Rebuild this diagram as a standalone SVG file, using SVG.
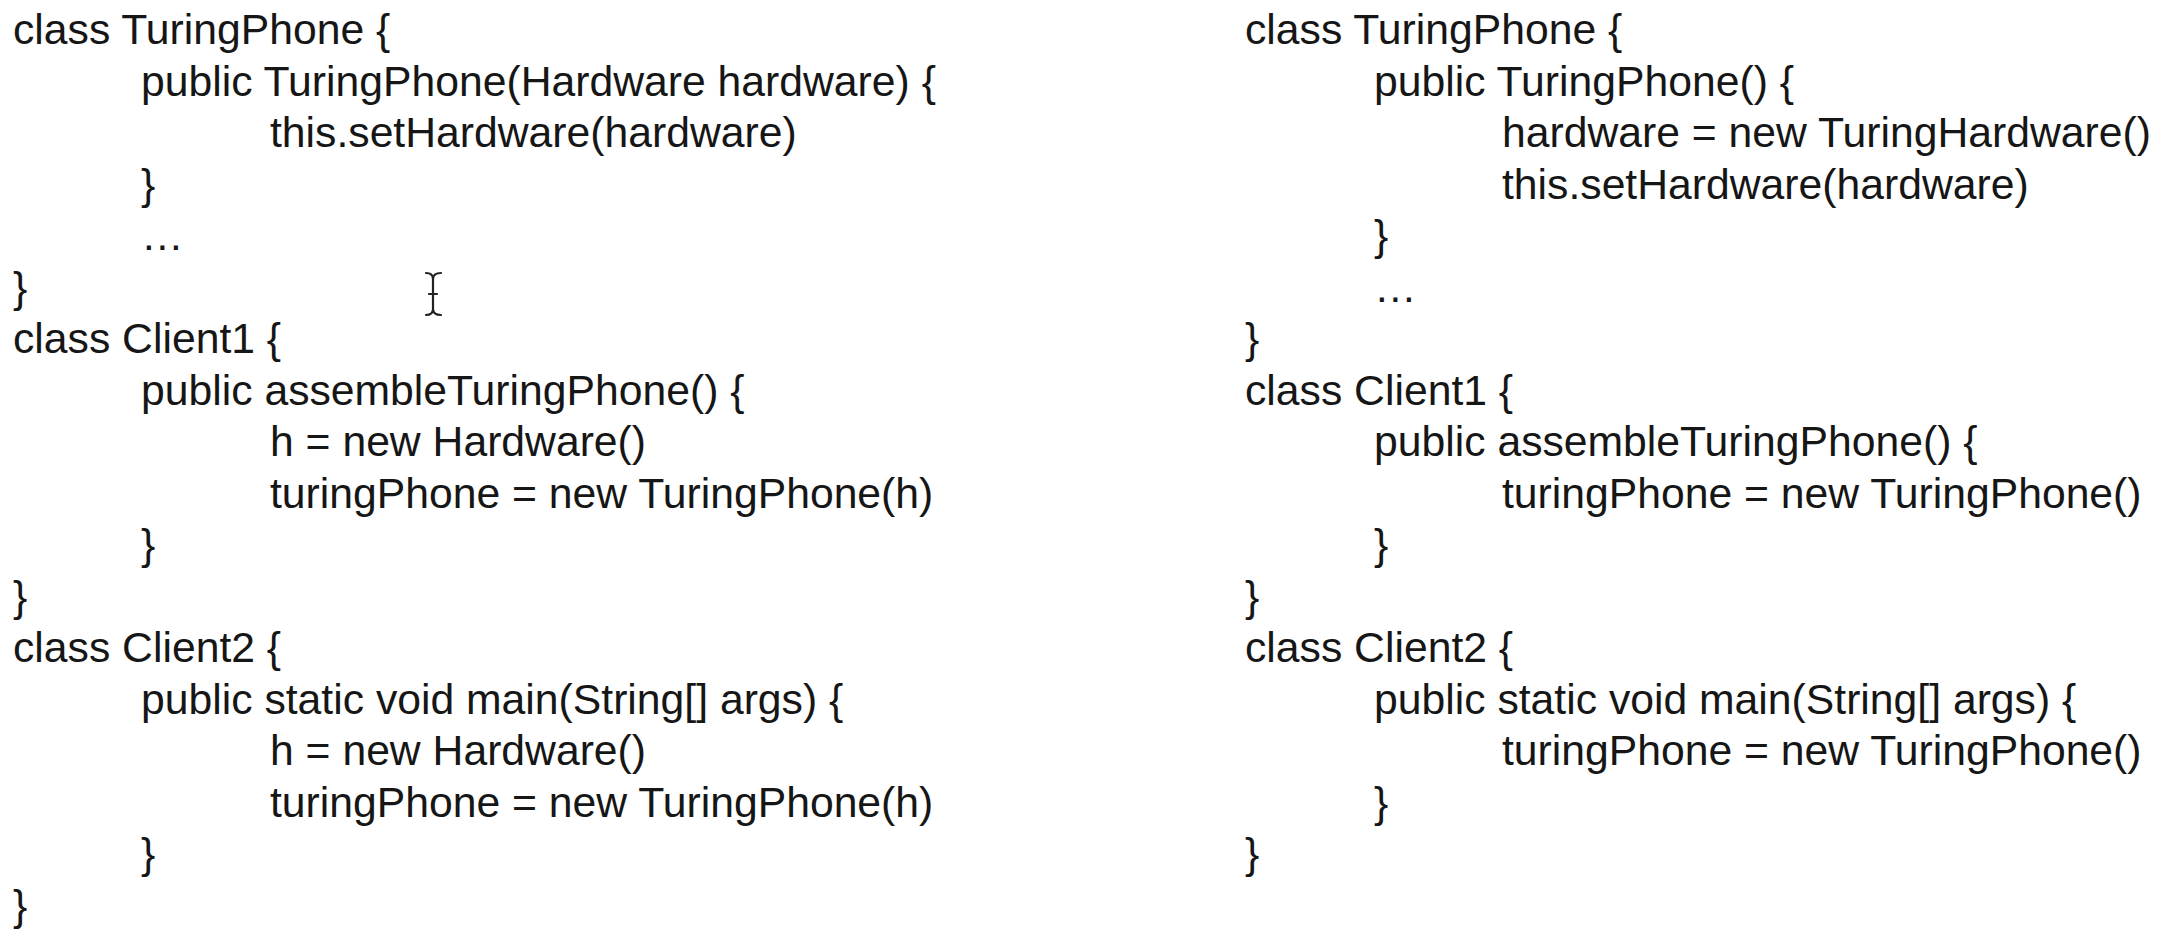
<svg xmlns="http://www.w3.org/2000/svg" width="2178" height="936" viewBox="0 0 2178 936">
<style>
  text { font-family: "Liberation Sans", Arial, sans-serif; font-size: 42.7px; fill: #161616; }
  .cursor { fill: none; stroke: #222; stroke-width: 2.2; stroke-linecap: round; }
</style>
<rect x="0" y="0" width="2178" height="936" fill="#ffffff"/>

<g id="left-turingphone">
  <text x="13" y="44">class TuringPhone {</text>
  <text x="141" y="95.5">public TuringPhone(Hardware hardware) {</text>
  <text x="270" y="147">this.setHardware(hardware)</text>
  <text x="141" y="198.5">}</text>
  <text x="141" y="250">…</text>
  <text x="13" y="301.5">}</text>
</g>
<g id="left-client1">
  <text x="13" y="353">class Client1 {</text>
  <text x="141" y="404.5">public assembleTuringPhone() {</text>
  <text x="270" y="456">h = new Hardware()</text>
  <text x="270" y="507.5">turingPhone = new TuringPhone(h)</text>
  <text x="141" y="559">}</text>
  <text x="13" y="610.5">}</text>
</g>
<g id="left-client2">
  <text x="13" y="662">class Client2 {</text>
  <text x="141" y="713.5">public static void main(String[] args) {</text>
  <text x="270" y="765">h = new Hardware()</text>
  <text x="270" y="816.5">turingPhone = new TuringPhone(h)</text>
  <text x="141" y="868">}</text>
  <text x="13" y="919.5">}</text>
</g>

<g id="right-turingphone">
  <text x="1245" y="44">class TuringPhone {</text>
  <text x="1374" y="95.5">public TuringPhone() {</text>
  <text x="1502" y="147">hardware = new TuringHardware()</text>
  <text x="1502" y="198.5">this.setHardware(hardware)</text>
  <text x="1374" y="250">}</text>
  <text x="1374" y="301.5">…</text>
  <text x="1245" y="353">}</text>
</g>
<g id="right-client1">
  <text x="1245" y="404.5">class Client1 {</text>
  <text x="1374" y="456">public assembleTuringPhone() {</text>
  <text x="1502" y="507.5">turingPhone = new TuringPhone()</text>
  <text x="1374" y="559">}</text>
  <text x="1245" y="610.5">}</text>
</g>
<g id="right-client2">
  <text x="1245" y="662">class Client2 {</text>
  <text x="1374" y="713.5">public static void main(String[] args) {</text>
  <text x="1502" y="765">turingPhone = new TuringPhone()</text>
  <text x="1374" y="816.5">}</text>
  <text x="1245" y="868">}</text>
</g>

<g id="mouse-cursor">
  <path class="cursor" d="M426,273 Q433,273 433,279 Q433,273 441,273 M433,279 L433,309 M429,294 L437,294 M426,315 Q433,315 433,309 Q433,315 441,315"/>
</g>
</svg>
